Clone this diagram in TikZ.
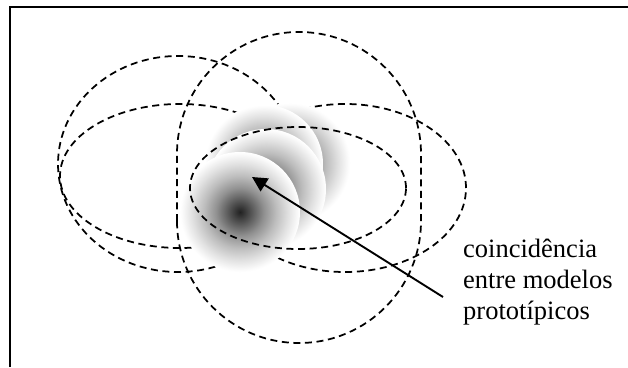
\documentclass[tikz,border=0pt]{standalone}
\usepackage{fontspec}
\setmainfont{Liberation Serif}
\usetikzlibrary{arrows.meta}
\pgfdeclareradialshading{blob}{\pgfpoint{0bp}{0bp}}{%
  rgb(0bp)=(0.13,0.13,0.13);
  rgb(5bp)=(0.35,0.35,0.35);
  rgb(10bp)=(0.57,0.57,0.57);
  rgb(15bp)=(0.74,0.74,0.74);
  rgb(20bp)=(0.88,0.88,0.88);
  rgb(24bp)=(0.98,0.98,0.98);
  rgb(25bp)=(1,1,1);
  rgb(50bp)=(1,1,1)}
\tikzset{
  model/.style={draw=black, line width=1.75pt, dash pattern=on 7pt off 4.6pt},
  frameline/.style={draw=black, line width=2pt},
  pointer/.style={draw=black, line width=1.9pt, -{Triangle[length=15pt,width=15pt]}},
  label/.style={anchor=base west, inner sep=0pt, font=\fontsize{26.5}{31}\selectfont}
}
\begin{document}
\begin{tikzpicture}[x=1pt,y=1pt]
\useasboundingbox (0,0) rectangle (628,367);
\fill[white] (0,0) rectangle (628,367);
% frame (cropped at right and bottom)
\draw[frameline] (9.5,0) -- (9.5,360) -- (628,360);
% dashed models below the shading
\draw[model] (178,203) ellipse [x radius=120, y radius=108];
\draw[model] (180,191) ellipse [x radius=120, y radius=72];
\draw[model] (177,146) -- (177,213) arc[start angle=180, end angle=0, radius=122]
  -- (421,146) arc[start angle=0, end angle=-180, radius=122] -- cycle;
\draw[model] (345,179) ellipse [x radius=121, y radius=84];
% shaded prototypes
\shade[shading=blob] (290,204) circle (60);
\shade[shading=blob] (264,203) circle (59);
\shade[shading=blob] (266,178) circle (60);
\shade[shading=blob] (240,155) circle (60);
% dashed model above the shading
\draw[model] (298,179) ellipse [x radius=108, y radius=61];
% arrow and label
\coordinate (tail) at (443,70);
\coordinate (tip) at (252,190);
\draw[pointer] (tail) -- (tip);
\node[label] (t1) at (463,110) {coincidência};
\node[label] (t2) at (463,79) {entre modelos};
\node[label] (t3) at (463,48) {prototípicos};
\end{tikzpicture}
\end{document}
